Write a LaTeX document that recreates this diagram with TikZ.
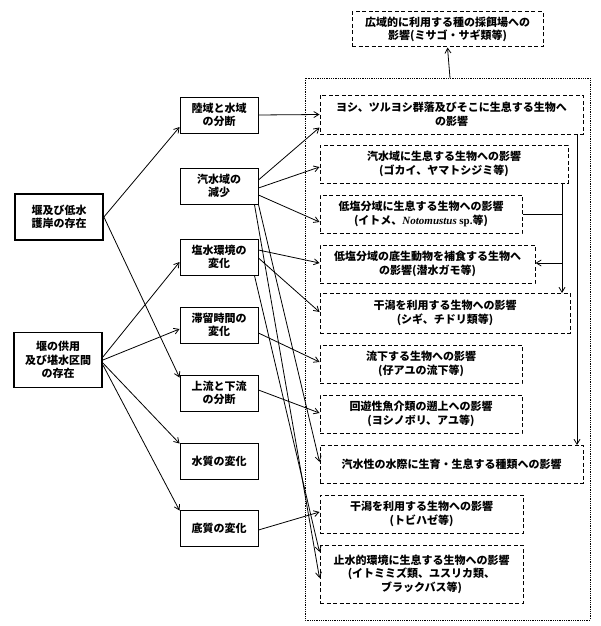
\documentclass[tikz,border=0pt]{standalone}
\usepackage{fontspec}
\setmainfont{Noto Sans CJK JP}
\newfontfamily\latinserif{Liberation Serif}
\usetikzlibrary{arrows.meta}
\begin{document}
\begin{tikzpicture}[x=1pt,y=-1pt,
  every node/.style={font=\fontsize{11}{13.5}\selectfont\bfseries, inner sep=1pt, align=center},
  lbox/.style={draw, line width=1.8pt, minimum width=88pt, minimum height=46pt},
  mbox/.style={draw, line width=0.9pt, minimum width=78pt, minimum height=36pt},
  rbox/.style={draw, dashed, line width=1pt, dash pattern=on 4pt off 2.5pt, minimum height=38pt},
  arr/.style={-{Straight Barb[length=5pt,width=6pt]}, line width=0.8pt}]
\useasboundingbox (0,0) rectangle (600,626);
% container
\draw[densely dotted, line width=0.8pt] (305,78) rectangle (590,620);
\coordinate (ctop) at (450,78);
% left
\node[lbox] (L1) at (59,217) {堰及び低水\\護岸の存在};
\node[lbox, minimum height=55pt] (L2) at (58,360) {堰の供用\\及び堪水区間\\の存在};
% middle
\node[mbox] (M1) at (219,115) {陸域と水域\\の分断};
\node[mbox] (M2) at (219,186) {汽水域の\\減少};
\node[mbox] (M3) at (219,257) {塩水環境の\\変化};
\node[mbox] (M4) at (219,325) {滞留時間の\\変化};
\node[mbox] (M5) at (219,393) {上流と下流\\の分断};
\node[mbox] (M6) at (219,461) {水質の変化};
\node[mbox] (M7) at (219,528) {底質の変化};
% right
\node[rbox, minimum width=191pt, minimum height=35pt] (R0) at (447.5,29.5) {広域的に利用する種の採餌場への\\影響(ミサゴ・サギ類等)};
\node[rbox, minimum width=263pt, minimum height=39pt] (R1) at (451.5,114.5) {ヨシ、ツルヨシ群落及びそこに生息する生物へ\\の影響};
\node[rbox, minimum width=248pt] (R2) at (444,164) {汽水域に生息する生物への影響\\(ゴカイ、ヤマトシジミ等)};
\node[rbox, minimum width=202pt] (R3) at (421,214) {低塩分域に生息する生物への影響\\(イトメ、{\latinserif\itshape\bfseries Notomustus} {\latinserif sp.}等)};
\node[rbox, minimum width=215pt] (R4) at (427.5,264) {低塩分域の底生動物を補食する生物へ\\の影響(潜水ガモ等)};
\node[rbox, minimum width=250pt, minimum height=40pt] (R5) at (445,313) {干潟を利用する生物への影響\\(シギ、チドリ類等)};
\node[rbox, minimum width=202pt] (R6) at (421,364) {流下する生物への影響\\(仔アユの流下等)};
\node[rbox, minimum width=202pt] (R7) at (421,414) {回遊性魚介類の遡上への影響\\(ヨシノボリ、アユ等)};
\node[rbox, minimum width=263pt] (R8) at (451.5,464) {汽水性の水際に生育・生息する種類への影響};
\node[rbox, minimum width=203pt] (R9) at (421.5,514) {干潟を利用する生物への影響\\(トビハゼ等)};
\node[rbox, minimum width=203pt, minimum height=58pt] (R10) at (421.5,574) {止水的環境に生息する生物への影響\\(イトミミズ類、ユスリカ類、\\ブラックバス等)};
% left to middle
\draw[arr] (L1.east) -- ([yshift=-12pt]M1.west);
\draw[arr] (L1.east) -- ([yshift=-3pt]M5.north west);
\draw[arr] ([yshift=3pt]L2.east) -- ([yshift=-5pt]M3.west);
\draw[arr] (L2.east) -- ([yshift=-4pt]M4.west);
\draw[arr] ([yshift=-3pt]L2.east) -- ([yshift=-1pt]M6.north west);
\draw[arr] ([yshift=-5pt]L2.east) -- ([yshift=-1pt]M7.north west);
% middle to right
\draw[arr] (M1.east) -- (R1.west);
\draw[arr] ([yshift=6pt]M2.east) -- ([yshift=-13pt]R1.west);
\draw[arr] ([yshift=-2pt]M2.east) -- ([yshift=-3pt]R2.west);
\draw[arr] ([yshift=-9pt]M2.east) -- ([yshift=-8pt]R3.west);
\draw[arr] (M2.south east) -- ([yshift=2pt]R8.west);
\draw[arr] ([xshift=-4pt]M2.south east) -- ([yshift=-4pt]R10.west);
\draw[arr] ([yshift=7pt]M3.east) -- ([yshift=1pt]R4.west);
\draw[arr] ([yshift=-1pt]M3.east) -- ([yshift=1pt]R5.west);
\draw[arr] ([xshift=-4pt]M3.south east) -- ([yshift=22pt]R10.west);
\draw[arr] ([yshift=-8pt]M4.east) -- ([yshift=2pt]R6.west);
\draw[arr] ([yshift=3pt]M5.east) -- ([yshift=1pt]R7.west);
\draw[arr] ([yshift=-2pt]M7.east) -- ([yshift=2pt]R9.west);
% feedback
\draw[arr] (ctop) -- (R0.south);
\coordinate (a1) at (577,134);
\coordinate (a2) at (577,445);
\draw[arr] (a1) -- (a2);
\coordinate (b1) at (562,183);
\coordinate (b2) at (562,293);
\coordinate (b3) at (562,214);
\coordinate (b4) at (562,263);
\draw[arr] (b1) -- (b2);
\draw[line width=0.8pt] (R3.east) -- (b3);
\draw[arr] (b4) -- (R4.east |- b4);
\end{tikzpicture}
\end{document}
